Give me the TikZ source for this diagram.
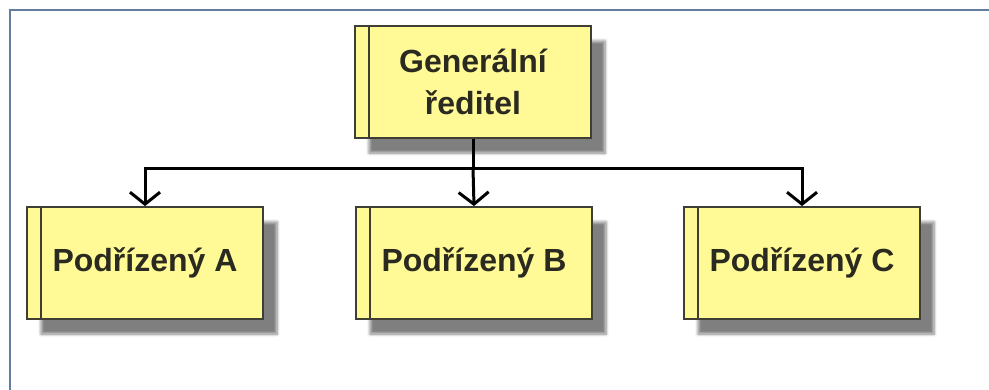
\documentclass[tikz,border=0pt]{standalone}
\usepackage{fontspec}
\setmainfont{Liberation Sans}
\usetikzlibrary{arrows.meta,shadows.blur}
\definecolor{framecol}{HTML}{627D9E}
\definecolor{boxfill}{HTML}{FFFA96}
\definecolor{boxedge}{HTML}{3E3E34}
\definecolor{textcol}{HTML}{2A2A20}
\tikzset{
  unit/.style={draw=boxedge, line width=1.8pt, fill=boxfill, rectangle,
    minimum width=236pt, minimum height=112pt, inner sep=0pt,
    text=textcol, align=center,
    font=\bfseries\fontsize{32}{42}\selectfont,
    blur shadow={shadow xshift=14pt, shadow yshift=-15pt,
      shadow blur radius=3pt, shadow blur steps=6, shadow opacity=50}},
  link/.style={line width=3pt, draw=black},
  tip/.style={-{Straight Barb[length=12pt,width=30pt,line width=3pt]}}
}
\begin{document}
\begin{tikzpicture}[x=1pt,y=-1pt]
  \useasboundingbox (0,0) rectangle (989,389);
  % outer frame, only its top and left edges fall inside the page
  \draw[framecol, line width=2.8pt] (10,400) -- (10,10) -- (1000,10);

  % the four units
  \node[unit] (gen) at (473,82) {Generální\\ředitel};
  \node[unit] (pa)  at (145,263) {Podřízený A};
  \node[unit] (pb)  at (474,263) {Podřízený B};
  \node[unit] (pc)  at (802,263) {Podřízený C};

  % inner stripe on the left side of every unit
  \foreach \n in {gen,pa,pb,pc}
    \draw[boxedge, line width=1.5pt]
      ([xshift=15pt]\n.north west) -- ([xshift=15pt]\n.south west);

  % connectors
  \coordinate (bus) at (gen.south |- 0,168);
  \draw[link] (gen.south) -- (bus);
  \draw[link, tip] (bus) -| (pa.north);
  \draw[link, tip] (bus) -- (pb.north);
  \draw[link, tip] (bus) -| (pc.north);
\end{tikzpicture}
\end{document}
